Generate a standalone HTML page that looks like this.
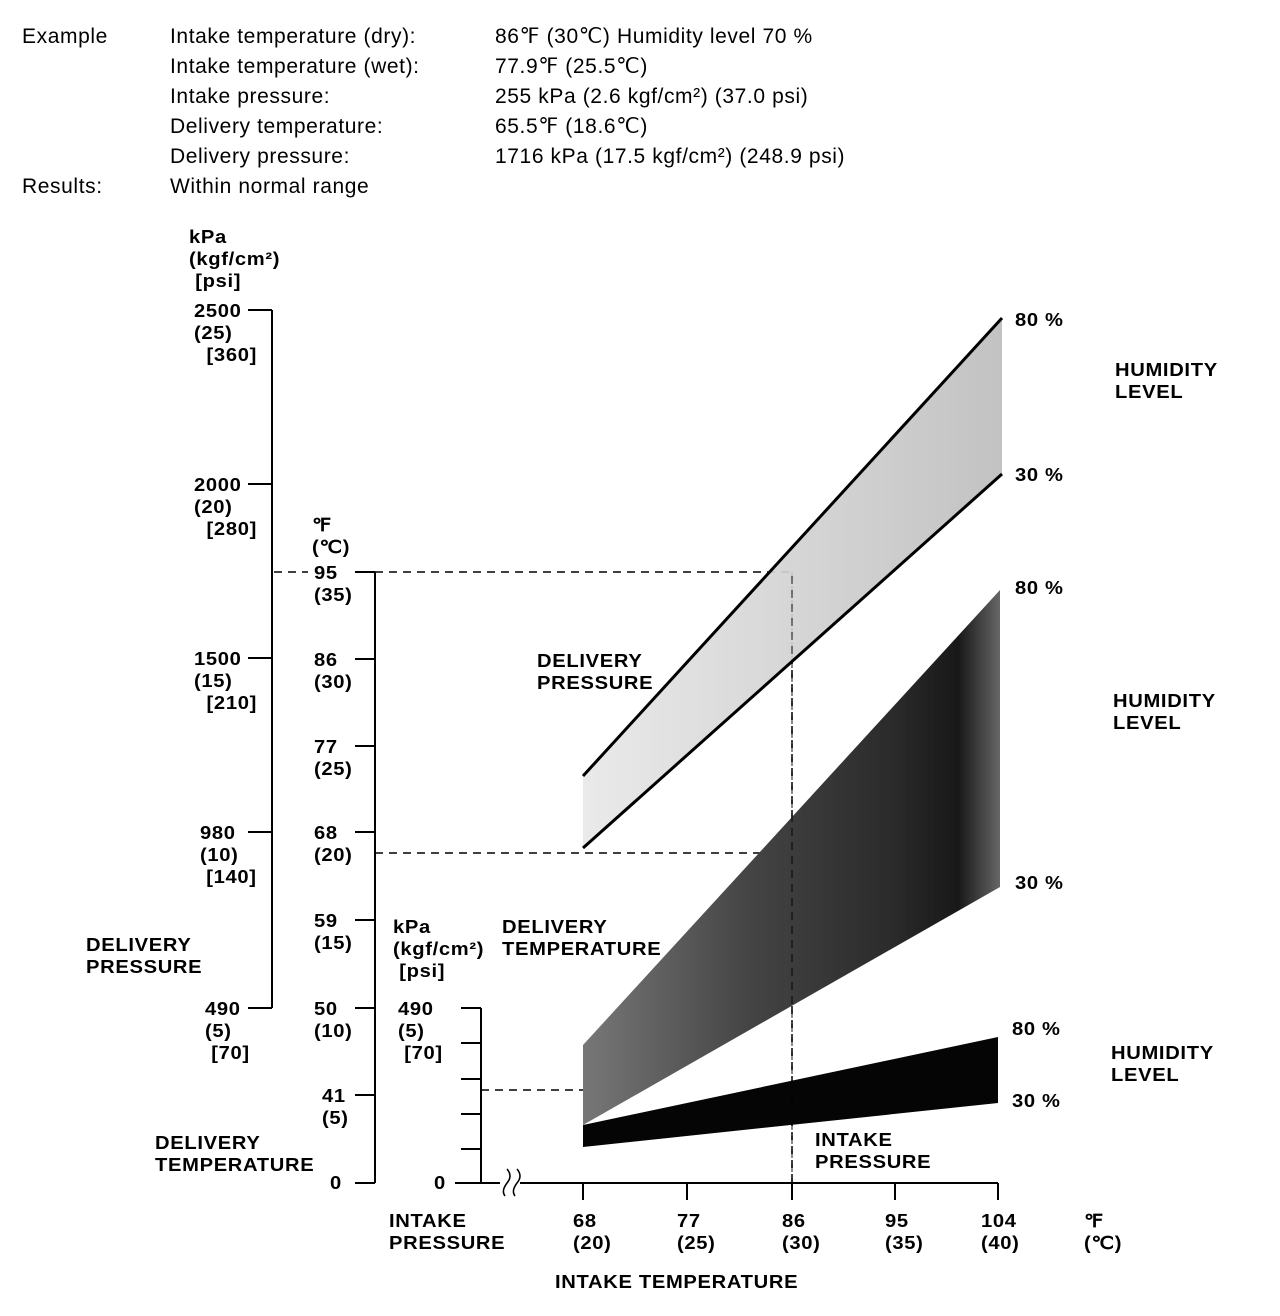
<!DOCTYPE html>
<html><head><style>
body{margin:0;background:#fff;}
#c{position:relative;width:1280px;height:1316px;overflow:hidden;font-family:"Liberation Sans",sans-serif;color:#000;}
.t{position:absolute;white-space:nowrap;font-size:21px;line-height:30px;letter-spacing:0.6px;}
.b{position:absolute;white-space:nowrap;font-weight:bold;font-size:18px;line-height:22px;letter-spacing:0.6px;transform:scaleX(1.12);transform-origin:0 0;}
svg{position:absolute;left:0;top:0;}
</style></head><body><div id="c">
<svg width="1280" height="1316">
<defs>
<linearGradient id="g1" x1="0" x2="1"><stop offset="0" stop-color="#e8e8e8"/><stop offset="1" stop-color="#bdbdbd"/></linearGradient>
<linearGradient id="g2" x1="0" x2="1"><stop offset="0" stop-color="#777"/><stop offset="0.4" stop-color="#444"/><stop offset="0.75" stop-color="#2a2a2a"/><stop offset="0.9" stop-color="#181818"/><stop offset="1" stop-color="#666"/></linearGradient>
</defs>
<g stroke="#000" fill="none" stroke-width="2">
<path d="M272 310V1008M248 310H272M248 484H272M248 658H272M248 832H272M248 1008H272"/>
<path d="M375 572V1183M355 572H375M355 659H375M355 746H375M355 832H375M355 920H375M355 1008H375M355 1095H375M355 1183H375"/>
<path d="M481 1008V1183M461 1008H481M461 1043H481M461 1079H481M461 1114H481M461 1149H481"/>
<path d="M455 1183H500M520 1183H998M583 1183V1200M687 1183V1200M792 1183V1200M895 1183V1200M998 1183V1200"/>
<path d="M505 1196q-4-5 2-13q6-7 0-14M515 1196q-4-5 2-13q6-7 0-14" stroke-width="1.5"/>
</g>
<g stroke="#000" stroke-width="1.5" stroke-dasharray="8,6" fill="none">
<path d="M274 572H308M375 572H792"/>
<path d="M375 853H792"/>
<path d="M481 1090H583"/>
<path d="M792 572V1183"/>
</g>
<polygon points="583,776 1002,318 1002,474 583,848" fill="url(#g1)" opacity="0.92"/>
<line x1="583" y1="776" x2="1002" y2="318" stroke="#000" stroke-width="3"/>
<line x1="583" y1="848" x2="1002" y2="474" stroke="#000" stroke-width="3"/>
<polygon points="583,1045 1000,590 1000,887 583,1125" fill="url(#g2)"/>
<polygon points="583,1125 998,1037 998,1103 583,1147" fill="#050505"/>
<line x1="792" y1="576" x2="792" y2="1183" stroke="#000" stroke-width="1.5" stroke-dasharray="8,6" opacity="0.6"/>
</svg>
<div class="t" style="left:22px;top:22px">Example</div>
<div class="t" style="left:170px;top:22px">Intake temperature (dry):</div>
<div class="t" style="left:495px;top:22px">86℉ (30℃) Humidity level 70 %</div>
<div class="t" style="left:170px;top:52px">Intake temperature (wet):</div>
<div class="t" style="left:495px;top:52px">77.9℉ (25.5℃)</div>
<div class="t" style="left:170px;top:82px">Intake pressure:</div>
<div class="t" style="left:495px;top:82px">255 kPa (2.6 kgf/cm²) (37.0 psi)</div>
<div class="t" style="left:170px;top:112px">Delivery temperature:</div>
<div class="t" style="left:495px;top:112px">65.5℉ (18.6℃)</div>
<div class="t" style="left:170px;top:142px">Delivery pressure:</div>
<div class="t" style="left:495px;top:142px">1716 kPa (17.5 kgf/cm²) (248.9 psi)</div>
<div class="t" style="left:22px;top:172px">Results:</div>
<div class="t" style="left:170px;top:172px">Within normal range</div>

<div class="b" style="left:189px;top:226px">kPa<br>(kgf/cm²)<br>&nbsp;[psi]</div>
<div class="b" style="left:194px;top:300px">2500<br>(25)<br>&nbsp;&nbsp;[360]</div>
<div class="b" style="left:194px;top:474px">2000<br>(20)<br>&nbsp;&nbsp;[280]</div>
<div class="b" style="left:194px;top:648px">1500<br>(15)<br>&nbsp;&nbsp;[210]</div>
<div class="b" style="left:200px;top:822px">980<br>(10)<br>&nbsp;[140]</div>
<div class="b" style="left:205px;top:998px">490<br>(5)<br>&nbsp;[70]</div>
<div class="b" style="left:86px;top:934px">DELIVERY<br>PRESSURE</div>

<div class="b" style="left:312px;top:514px">℉<br>(℃)</div>
<div class="b" style="left:314px;top:562px">95<br>(35)</div>
<div class="b" style="left:314px;top:649px">86<br>(30)</div>
<div class="b" style="left:314px;top:736px">77<br>(25)</div>
<div class="b" style="left:314px;top:822px">68<br>(20)</div>
<div class="b" style="left:314px;top:910px">59<br>(15)</div>
<div class="b" style="left:314px;top:998px">50<br>(10)</div>
<div class="b" style="left:322px;top:1085px">41<br>(5)</div>
<div class="b" style="left:330px;top:1172px">0</div>
<div class="b" style="left:155px;top:1132px">DELIVERY<br>TEMPERATURE</div>

<div class="b" style="left:393px;top:916px">kPa<br>(kgf/cm²)<br>&nbsp;[psi]</div>
<div class="b" style="left:398px;top:998px">490<br>(5)<br>&nbsp;[70]</div>
<div class="b" style="left:434px;top:1172px">0</div>

<div class="b" style="left:389px;top:1210px">INTAKE<br>PRESSURE</div>
<div class="b" style="left:573px;top:1210px">68<br>(20)</div>
<div class="b" style="left:677px;top:1210px">77<br>(25)</div>
<div class="b" style="left:782px;top:1210px">86<br>(30)</div>
<div class="b" style="left:885px;top:1210px">95<br>(35)</div>
<div class="b" style="left:981px;top:1210px">104<br>(40)</div>
<div class="b" style="left:1084px;top:1210px">℉<br>(℃)</div>
<div class="b" style="left:555px;top:1271px">INTAKE TEMPERATURE</div>

<div class="b" style="left:537px;top:650px">DELIVERY<br>PRESSURE</div>
<div class="b" style="left:502px;top:916px">DELIVERY<br>TEMPERATURE</div>
<div class="b" style="left:815px;top:1129px">INTAKE<br>PRESSURE</div>

<div class="b" style="left:1015px;top:309px">80 %</div>
<div class="b" style="left:1015px;top:464px">30 %</div>
<div class="b" style="left:1015px;top:577px">80 %</div>
<div class="b" style="left:1015px;top:872px">30 %</div>
<div class="b" style="left:1012px;top:1018px">80 %</div>
<div class="b" style="left:1012px;top:1090px">30 %</div>
<div class="b" style="left:1115px;top:359px">HUMIDITY<br>LEVEL</div>
<div class="b" style="left:1113px;top:690px">HUMIDITY<br>LEVEL</div>
<div class="b" style="left:1111px;top:1042px">HUMIDITY<br>LEVEL</div>
</div></body></html>
